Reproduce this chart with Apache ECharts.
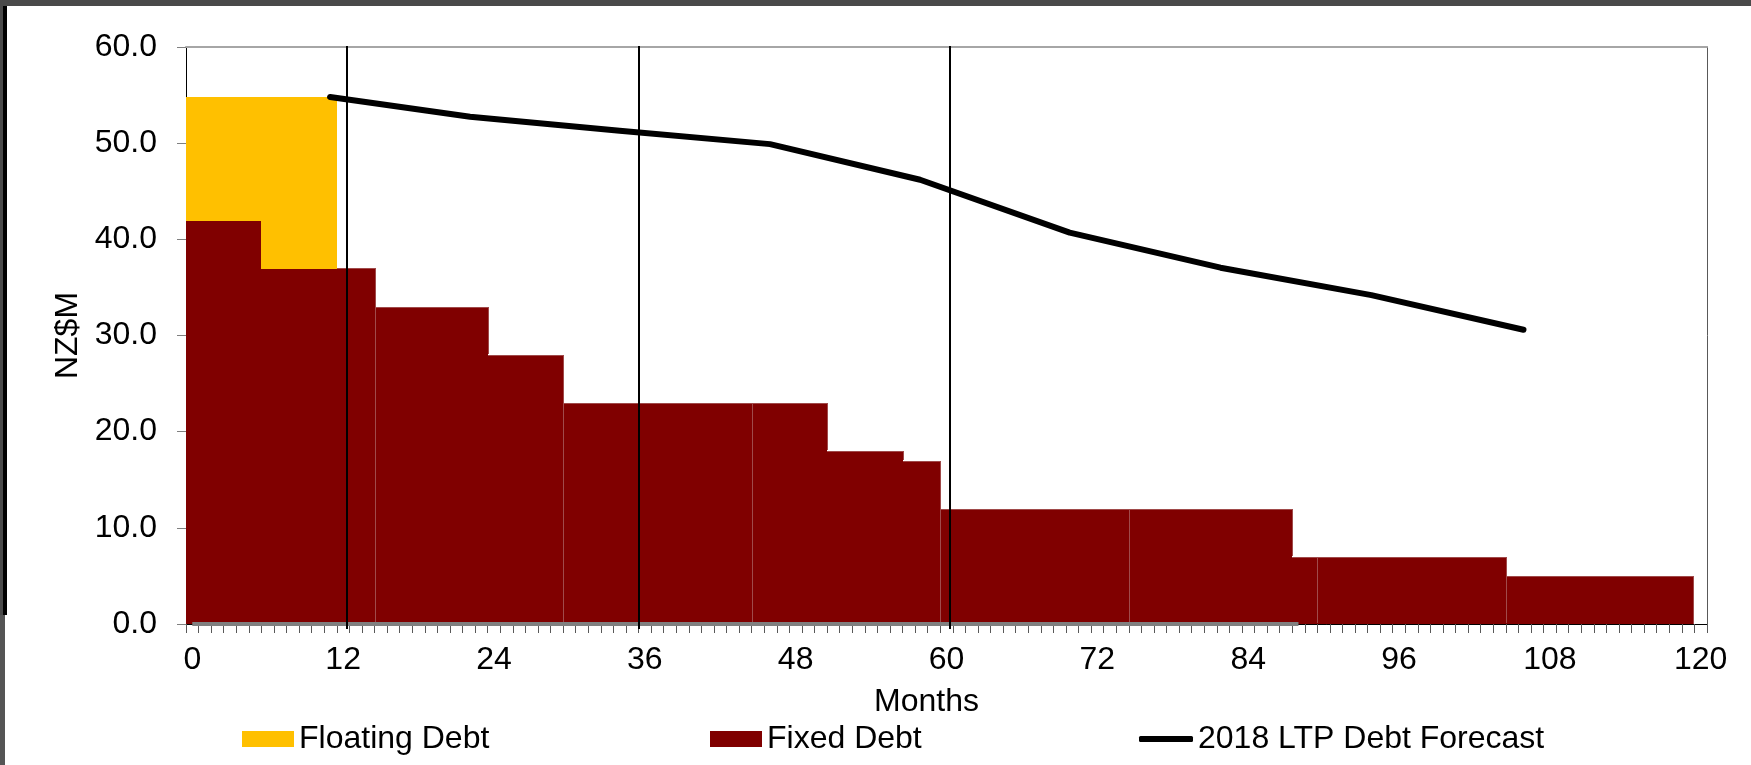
<!DOCTYPE html>
<html>
<head>
<meta charset="utf-8">
<script src="https://cdn.jsdelivr.net/npm/echarts@6/dist/echarts.min.js"></script>
<style>
html,body{margin:0;padding:0;background:#ffffff;}
#chart{width:1751px;height:765px;}
</style>
</head>
<body>
<div id="chart"></div>
<script>
// ---- data ----
const monthLabels = [];
for (let m = 0; m <= 120; m++) monthLabels.push(String(m));

// Fixed debt step segments (month band edges) and amounts, NZ$M
const fixedStart = [-0.5, 5.5, 14.5, 23.5, 29.5, 44.5, 50.5, 56.5, 59.5, 74.5, 87.5, 89.5, 104.5];
const fixedEnd   = [5.5, 14.5, 23.5, 29.5, 44.5, 50.5, 56.5, 59.5, 74.5, 87.5, 89.5, 104.5, 119.5];
const fixedValue = [42, 37, 33, 28, 23, 23, 18, 17, 12, 12, 7, 7, 5];

// Floating debt (stacked on top of fixed debt)
const floatingStart = [-0.5, 5.5];
const floatingEnd   = [5.5, 11.5];
const floatingValue = [12.8, 17.8];

// 2018 LTP debt forecast
const ltpMonth = [10.96, 22.1, 34.0, 45.96, 57.9, 69.8, 81.8, 93.8, 105.9];
const ltpValue = [54.8, 52.75, 51.3, 49.9, 46.2, 40.7, 37.05, 34.2, 30.6];

// zero baseline series (grey)
const baseMonth = [0, 88];
const baseValue = [0, 0];

// vertical reference lines (months)
const refMonths = [12.3, 35.5, 60.3];

// ---- styling ----
const FONT = 'Liberation Sans, Arial, sans-serif';
const FS = 32;
const FIXED_COLOR = '#800000';
const EDGE_COLOR = '#a04a4a';
const FLOAT_COLOR = '#FFC000';

function fixedAt(x) {
  for (let i = 0; i < fixedStart.length; i++) {
    if (x >= fixedStart[i] && x < fixedEnd[i]) return fixedValue[i];
  }
  return 0;
}

const R = Math.round;

function renderFixed(params, api) {
  const i = params.dataIndex;
  const s = api.value(0), e = api.value(1), v = api.value(2);
  const tl = api.coord([s, v]);
  const br = api.coord([e, 0]);
  const x0 = R(tl[0]), x1 = R(br[0]), y0 = R(tl[1]), y1 = R(br[1]);
  const edge = { stroke: EDGE_COLOR, lineWidth: 1 };
  const children = [{
    type: 'rect',
    shape: { x: x0, y: y0, width: x1 - x0, height: y1 - y0 },
    style: { fill: FIXED_COLOR }
  }, {
    type: 'line',
    shape: { x1: x0, y1: y0 + 0.5, x2: x1, y2: y0 + 0.5 },
    style: edge
  }];
  if (i > 0) {
    const pv = fixedEnd[i - 1] === s ? fixedValue[i - 1] : 0;
    const blockEdge = ((s + 0.5) % 15) === 0;
    const lo = blockEdge ? 0 : Math.min(pv, v);
    const hi = Math.max(pv, v);
    if (hi > lo) {
      const a = api.coord([s, hi]), b = api.coord([s, lo]);
      children.push({ type: 'line', shape: { x1: x0 + 0.5, y1: R(a[1]), x2: x0 + 0.5, y2: R(b[1]) - 1 }, style: edge });
    }
  }
  if (i === fixedValue.length - 1) {
    children.push({ type: 'line', shape: { x1: x1 - 0.5, y1: y0, x2: x1 - 0.5, y2: y1 }, style: edge });
  }
  return { type: 'group', children: children };
}

function renderFloating(params, api) {
  const s = api.value(0), e = api.value(1), v = api.value(2);
  const base = fixedAt(s + 0.01);
  const tl = api.coord([s, base + v]);
  const br = api.coord([e, base]);
  const x0 = R(tl[0]), x1 = R(br[0]), y0 = R(tl[1]), y1 = R(br[1]);
  return {
    type: 'rect',
    shape: { x: x0, y: y0, width: x1 - x0, height: y1 - y0 + 1 },
    style: { fill: FLOAT_COLOR }
  };
}

function renderRef(params, api) {
  const m = api.value(0);
  const top = api.coord([m, 60]);
  const bot = api.coord([m, 0]);
  const x = R(top[0]);
  return {
    type: 'line',
    shape: { x1: x, y1: top[1] - 1, x2: x, y2: bot[1] + 5 },
    style: { stroke: '#000000', lineWidth: 2 }
  };
}

const chart = echarts.init(document.getElementById('chart'), null, { renderer: 'canvas' });

const legendBase = {
  orient: 'horizontal',
  top: 723,
  padding: 0,
  itemWidth: 52,
  itemHeight: 16,
  textStyle: { fontFamily: FONT, fontSize: FS, color: '#000000' },
  selectedMode: false
};

const option = {
  backgroundColor: '#ffffff',
  animation: false,
  textStyle: { fontFamily: FONT },
  grid: { left: 186, right: 44, top: 47, bottom: 141, containLabel: false, outerBoundsMode: 'none' },
  legend: [
    Object.assign({}, legendBase, { left: 242, data: [{ name: 'Floating Debt', icon: 'rect' }] }),
    Object.assign({}, legendBase, { left: 710, data: [{ name: 'Fixed Debt', icon: 'rect' }] }),
    Object.assign({}, legendBase, { left: 1139, itemWidth: 54, itemHeight: 6, data: [{ name: '2018 LTP Debt Forecast', icon: 'roundRect' }] })
  ],
  xAxis: [{
    type: 'category',
    data: monthLabels,
    position: 'bottom',
    boundaryGap: true,
    axisLine: { show: true, lineStyle: { color: '#000000', width: 1 } },
    axisTick: { show: true, interval: 0, alignWithLabel: false, length: 9, lineStyle: { color: '#595959', width: 1 } },
    axisLabel: { show: true, interval: 11, margin: 20, fontFamily: FONT, fontSize: FS, color: '#000000' },
    splitLine: { show: false },
    name: 'Months',
    nameLocation: 'middle',
    nameGap: 62,
    nameTextStyle: { fontFamily: FONT, fontSize: FS, color: '#000000', padding: [0, 40, 0, 0] }
  }, {
    type: 'value',
    min: -0.5,
    max: 120.5,
    position: 'top',
    axisLine: { show: true, onZero: false, lineStyle: { color: '#a6a6a6', width: 2 } },
    axisTick: { show: false },
    axisLabel: { show: false },
    splitLine: { show: false }
  }],
  yAxis: [{
    type: 'value',
    min: 0,
    max: 60,
    interval: 10,
    position: 'left',
    axisLine: { show: true, onZero: false, lineStyle: { color: '#000000', width: 1 } },
    axisTick: { show: true, length: 9, lineStyle: { color: '#808080', width: 1 } },
    axisLabel: { show: true, margin: 29, fontFamily: FONT, fontSize: FS, color: '#000000', formatter: v => v.toFixed(1) },
    splitLine: { show: false },
    name: 'NZ$M',
    nameLocation: 'middle',
    nameRotate: 90,
    nameGap: 100,
    nameTextStyle: { fontFamily: FONT, fontSize: FS, color: '#000000' }
  }, {
    type: 'value',
    min: 0,
    max: 60,
    interval: 10,
    position: 'right',
    axisLine: { show: true, onZero: false, lineStyle: { color: '#595959', width: 1 } },
    axisTick: { show: false },
    axisLabel: { show: false },
    splitLine: { show: false }
  }],
  series: [{
    name: 'Fixed Debt',
    type: 'custom',
    xAxisIndex: 1,
    yAxisIndex: 0,
    itemStyle: { color: FIXED_COLOR },
    renderItem: renderFixed,
    encode: { x: [0, 1], y: 2 },
    data: fixedStart.map((s, i) => [s, fixedEnd[i], fixedValue[i]]),
    z: 2
  }, {
    name: 'Floating Debt',
    type: 'custom',
    xAxisIndex: 1,
    yAxisIndex: 0,
    itemStyle: { color: FLOAT_COLOR },
    renderItem: renderFloating,
    encode: { x: [0, 1], y: 2 },
    data: floatingStart.map((s, i) => [s, floatingEnd[i], floatingValue[i]]),
    z: 2
  }, {
    name: 'baseline',
    type: 'line',
    xAxisIndex: 1,
    yAxisIndex: 0,
    symbol: 'none',
    lineStyle: { color: '#808080', width: 4, cap: 'butt' },
    data: baseMonth.map((m, i) => [m, baseValue[i]]),
    z: 3
  }, {
    name: 'refLines',
    type: 'custom',
    xAxisIndex: 1,
    yAxisIndex: 0,
    renderItem: renderRef,
    encode: { x: 0 },
    data: refMonths.map(m => [m]),
    z: 4
  }, {
    name: '2018 LTP Debt Forecast',
    type: 'line',
    xAxisIndex: 1,
    yAxisIndex: 1,
    symbol: 'none',
    itemStyle: { color: '#000000' },
    lineStyle: { color: '#000000', width: 6, cap: 'round', join: 'round' },
    data: ltpMonth.map((m, i) => [m, ltpValue[i]]),
    z: 5
  }],
  graphic: [
    { type: 'rect', shape: { x: 0, y: 0, width: 1751, height: 6 }, style: { fill: '#4a4a4a' }, z: 100 },
    { type: 'rect', shape: { x: 0, y: 0, width: 3, height: 765 }, style: { fill: '#4a4a4a' }, z: 100 },
    { type: 'rect', shape: { x: 3, y: 6, width: 4, height: 609 }, style: { fill: '#000000' }, z: 100 },
    { type: 'rect', shape: { x: 0, y: 615, width: 5, height: 150 }, style: { fill: '#555555' }, z: 100 }
  ]
};

chart.setOption(option);
</script>
</body>
</html>
